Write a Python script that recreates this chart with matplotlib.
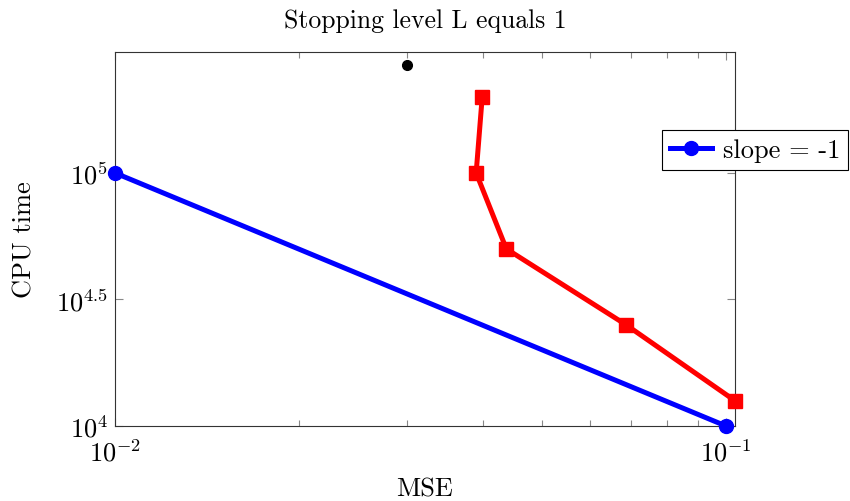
import numpy as np
import matplotlib
matplotlib.use("Agg")
import matplotlib.pyplot as plt
from matplotlib.ticker import FixedLocator, FixedFormatter, LogLocator, NullFormatter

plt.rcParams['font.family'] = 'serif'
plt.rcParams['font.serif'] = ['cmr10']
plt.rcParams['mathtext.fontset'] = 'cm'
plt.rcParams['axes.unicode_minus'] = False
plt.rcParams['axes.formatter.use_mathtext'] = True

# reference line, slope = -1
ref_mse = [0.01, 0.1]
ref_cpu = [1e5, 1e4]

# measured MSE vs CPU time
mse = [0.0399, 0.0390, 0.0437, 0.0686, 0.1034]
cpu = [10**5.3, 10**5.0, 10**4.7, 10**4.4, 10**4.1]

# single extra point
dot_mse = [0.03]
dot_cpu = [10**5.427]

ytick_vals = [1e4, 10**4.5, 1e5]
ytick_labels = [r'$10^{4}$', r'$10^{4.5}$', r'$10^{5}$']
xtick_vals = [0.01, 0.1]
xtick_labels = [r'$10^{-2}$', r'$10^{-1}$']


def main():
    fig = plt.figure(figsize=(8.5, 5.02), dpi=100)
    ax = fig.add_axes([115/850, 75/502, 620/850, 374/502])

    ax.plot(ref_mse, ref_cpu, color='blue', lw=3.6, marker='o', ms=10,
            label='slope = -1', clip_on=False, zorder=3)
    ax.plot(mse, cpu, color='red', lw=3.6, marker='s', ms=10,
            clip_on=False, zorder=3)
    ax.plot(dot_mse, dot_cpu, 'o', color='black', ms=7, clip_on=False, zorder=3)

    ax.set_xscale('log')
    ax.set_yscale('log')
    ax.set_xlim(0.01, 10**-0.9853)
    ax.set_ylim(1e4, 10**5.478)

    ax.xaxis.set_major_locator(FixedLocator(xtick_vals))
    ax.xaxis.set_major_formatter(FixedFormatter(xtick_labels))
    ax.xaxis.set_minor_locator(LogLocator(base=10, subs=np.arange(2, 10)))
    ax.xaxis.set_minor_formatter(NullFormatter())
    ax.yaxis.set_major_locator(FixedLocator(ytick_vals))
    ax.yaxis.set_major_formatter(FixedFormatter(ytick_labels))
    ax.yaxis.set_minor_locator(FixedLocator([]))

    ax.tick_params(which='both', direction='in', top=True, right=True,
                   color='#888888', labelsize=19, pad=5)
    ax.tick_params(axis='x', which='major', pad=9)
    ax.tick_params(which='major', length=6, width=0.8)
    ax.tick_params(which='minor', length=4, width=0.8)
    for s in ax.spines.values():
        s.set_linewidth(0.8)
        s.set_color('#333333')

    ax.set_xlabel('MSE', fontsize=19, labelpad=8)
    ax.set_ylabel('CPU time', fontsize=19, labelpad=14)
    ax.set_title('Stopping level L equals 1', fontsize=18.5, pad=18)

    leg = ax.legend(loc='center left', bbox_to_anchor=(662/850, 1 - 151/502),
                    bbox_transform=fig.transFigure, fancybox=False,
                    edgecolor='black', framealpha=1, fontsize=19,
                    handlelength=1.6, handletextpad=0.4, borderpad=0.3,
                    borderaxespad=0)
    leg.get_frame().set_linewidth(0.8)

    fig.savefig('out.png', dpi=100)


if __name__ == "__main__":
    main()
